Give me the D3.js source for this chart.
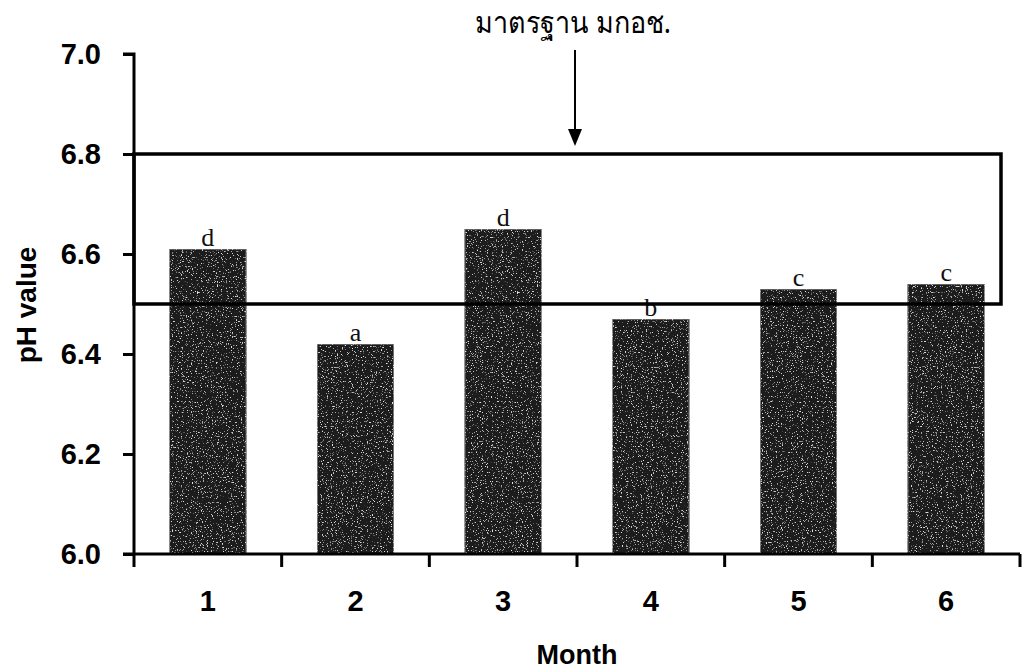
<!DOCTYPE html>
<html><head><meta charset="utf-8">
<script src="https://cdn.jsdelivr.net/npm/d3@7"></script>
<style>body{margin:0;background:#fff}svg{display:block}</style>
</head><body>
<svg id="c" width="1023" height="671"></svg>
<script>
const months = ["1","2","3","4","5","6"];
const phValues = [6.61, 6.42, 6.65, 6.47, 6.53, 6.54];
const groupLetters = ["d","a","d","b","c","c"];
const yTicks = [6.0, 6.2, 6.4, 6.6, 6.8, 7.0];
const standardRange = [6.5, 6.8];
const standardLabel = "มาตรฐาน มกอช.";
const xTitle = "Month";
const yTitle = "pH value";

const svg = d3.select("#c");
const x = d3.scaleBand().domain(months).range([134, 1020]).paddingInner(0.48).paddingOuter(0.24);
const y = d3.scaleLinear().domain([6.0, 7.0]).range([554, 54]);

const defs = svg.append("defs");
const f = defs.append("filter").attr("id","noise").attr("x",0).attr("y",0).attr("width","100%").attr("height","100%");
f.append("feTurbulence").attr("type","fractalNoise").attr("baseFrequency","0.8").attr("numOctaves",2).attr("seed",5).attr("result","n");
f.append("feColorMatrix").attr("in","n").attr("type","matrix")
 .attr("values","0 0 0 0 0.75  0 0 0 0 0.75  0 0 0 0 0.75  0 0 0 7 -4.4").attr("result","s");
f.append("feComposite").attr("in","s").attr("in2","SourceGraphic").attr("operator","in").attr("result","sp");
f.append("feMerge").selectAll("m").data(["SourceGraphic","sp"]).join("feMergeNode").attr("in",d=>d);

const sansFont = "Liberation Sans, Arial, sans-serif";

// bars
svg.append("g").selectAll("rect").data(months).join("rect")
  .attr("x", d => x(d)).attr("width", x.bandwidth())
  .attr("y", (d,i) => y(phValues[i])).attr("height", (d,i) => y(6.0) - y(phValues[i]))
  .attr("fill", "#1c1c1c").attr("stroke", "#8a8a8a").attr("stroke-width", 1.2)
  .attr("filter","url(#noise)");

// letters
svg.append("g").selectAll("text").data(months).join("text")
  .attr("x", d => x(d) + x.bandwidth()/2).attr("y", (d,i) => y(phValues[i]) - 3)
  .attr("text-anchor","middle").style("font-family","Liberation Serif, Times New Roman, serif")
  .style("font-size", "26px").attr("fill","#111").text((d,i) => groupLetters[i]);

// standard box
svg.append("rect").attr("x", 134).attr("y", y(standardRange[1]))
  .attr("width", 1001 - 134).attr("height", y(standardRange[0]) - y(standardRange[1]))
  .attr("fill","none").attr("stroke","#000").attr("stroke-width", 3.5);

// axes
const yAxis = svg.append("g").attr("transform","translate(134,0)")
  .call(d3.axisLeft(y).tickValues(yTicks).tickFormat(d3.format(".1f")).tickSize(11).tickPadding(22));
const xAxis = svg.append("g").attr("transform","translate(0,554)")
  .call(d3.axisBottom(x).tickSize(0).tickPadding(36));
[yAxis, xAxis].forEach(g => {
  g.attr("font-size", null).attr("font-family", null);
  g.select(".domain").attr("stroke","#000").attr("stroke-width",3);
  g.selectAll(".tick line").attr("stroke","#000").attr("stroke-width",3);
  g.selectAll(".tick text").style("font-family", sansFont).style("font-size","29px")
   .style("font-weight","bold").attr("fill","#000");
});
yAxis.select(".domain").attr("d","M-11,54H0V554");
xAxis.select(".domain").attr("d","M123,0H1020");
const bounds = months.map(d => x(d) - x.step()*x.paddingInner()/2).concat([x(months[5]) + x.bandwidth() + x.step()*x.paddingInner()/2]);
bounds[0] = 134;
xAxis.append("g").selectAll("line").data(bounds).join("line")
  .attr("x1", d => d).attr("x2", d => d).attr("y1", 0).attr("y2", 13)
  .attr("stroke","#000").attr("stroke-width",3);

// titles
svg.append("text").attr("x", 577).attr("y", 664).attr("text-anchor","middle")
  .style("font-family",sansFont).style("font-weight","bold")
  .style("font-size","27px").text(xTitle);
svg.append("text").attr("transform","translate(36,305) rotate(-90)").attr("text-anchor","middle")
  .style("font-family",sansFont).style("font-weight","bold")
  .style("font-size","28px").text(yTitle);

// annotation
svg.append("text").attr("transform","translate(573,33) scale(1,1.12)").attr("text-anchor","middle")
  .style("font-family","Noto Sans, DejaVu Sans, sans-serif").style("font-size","27px").attr("fill","#000").text(standardLabel);
svg.append("line").attr("x1",575).attr("x2",575).attr("y1",50).attr("y2",130).attr("stroke","#000").attr("stroke-width",2);
svg.append("path").attr("d", d3.line()([[568,129],[582,129],[575,146]])).attr("fill","#000");
</script>
</body></html>
